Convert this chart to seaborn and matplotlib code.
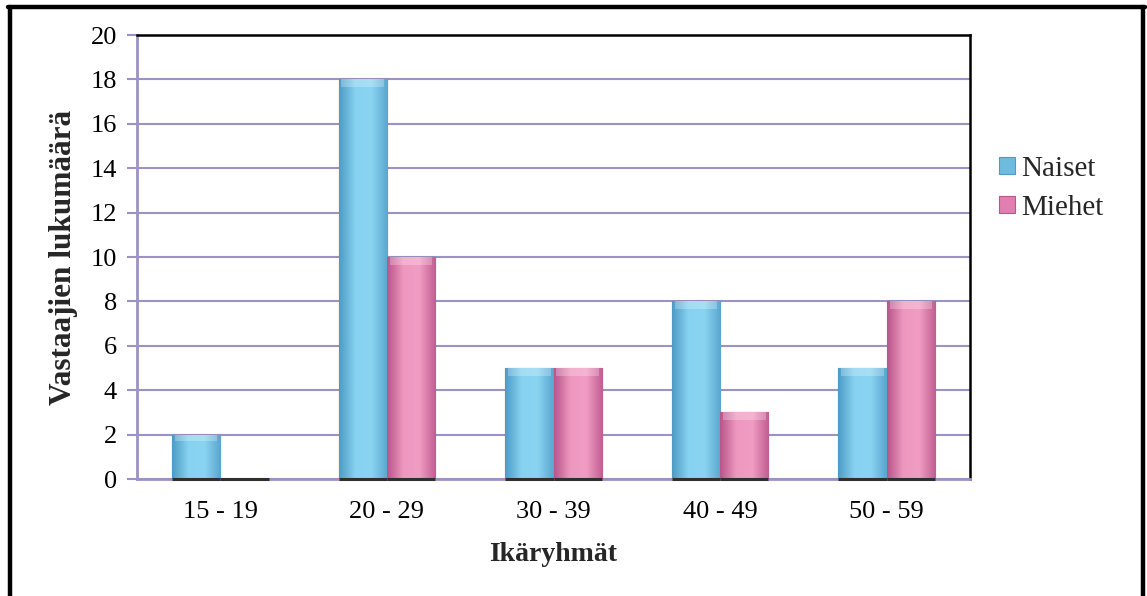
import numpy as np
import pandas as pd
import matplotlib
matplotlib.use("Agg")
import matplotlib.pyplot as plt
from matplotlib.lines import Line2D
from matplotlib.patches import Patch
from matplotlib.colors import LinearSegmentedColormap
import seaborn as sns

categories = ["15 - 19", "20 - 29", "30 - 39", "40 - 49", "50 - 59"]
naiset = [2, 18, 5, 8, 5]
miehet = [0, 10, 5, 3, 8]
series_names = ["Naiset", "Miehet"]
y_ticks = [0, 2, 4, 6, 8, 10, 12, 14, 16, 18, 20]

df = pd.DataFrame({
    "Ikäryhmä": categories * 2,
    "Sarja": [series_names[0]] * len(categories) + [series_names[1]] * len(categories),
    "Määrä": naiset + miehet,
})

sns.set_theme(style="white")
plt.rcParams["font.family"] = ["Liberation Serif", "DejaVu Serif"]

blue = "#7CC7E8"
pink = "#E889B6"
grid_col = "#9D92C4"

fig = plt.figure(figsize=(11.47, 5.96), dpi=100)
ax = fig.add_axes([137 / 1147, 1 - 479 / 596, (970 - 137) / 1147, (479 - 35) / 596])

sns.barplot(data=df, x="Ikäryhmä", y="Määrä", hue="Sarja", palette=[blue, pink],
            width=0.58, ax=ax, legend=False, edgecolor="#3a3a3a", linewidth=0.8,
            saturation=1)

# shaded bevel on each bar
shades = {blue: ["#4E9CC6", "#86D2F0", "#8AD4F2", "#5BA6CF"],
          pink: ["#B9568A", "#EE98C0", "#F09CC3", "#C25E92"]}
for patch in list(ax.patches):
    h = patch.get_height()
    x0, w = patch.get_x(), patch.get_width()
    # dark base shadow along the axis line
    ax.hlines(0, x0, x0 + w, color="#2f2f2f", linewidth=2.2, zorder=6, clip_on=False)
    if h <= 0:
        continue
    fc = matplotlib.colors.to_hex(patch.get_facecolor())
    cols = shades[blue] if fc.lower() == blue.lower() else shades[pink]
    cmap = LinearSegmentedColormap.from_list("bev", cols)
    grad = np.linspace(0, 1, 64).reshape(1, -1)
    im = ax.imshow(grad, cmap=cmap, aspect="auto", extent=[x0, x0 + w, 0, h],
                   zorder=patch.get_zorder() + 0.1, interpolation="bicubic")
    im.set_clip_path(patch)
    # lighter top cap
    cap = min(0.35, h * 0.15)
    ax.fill_between([x0 + w * 0.06, x0 + w * 0.94], h - cap, h, color="white",
                    alpha=0.25, zorder=patch.get_zorder() + 0.2, linewidth=0)

ax.set_ylim(0, 20)
ax.set_xlim(-0.5, 4.5)
ax.set_yticks(y_ticks)
ax.yaxis.grid(True, color=grid_col, linewidth=1.5)
ax.set_axisbelow(True)

ax.tick_params(axis="y", which="both", left=True, length=7, width=1.5, color=grid_col,
               labelsize=19, pad=7.5, labelcolor="black")
ax.tick_params(axis="x", bottom=False, labelsize=19, pad=9.5, labelcolor="black")

for side in ["left", "bottom"]:
    ax.spines[side].set_color(grid_col)
    ax.spines[side].set_linewidth(2)
for side in ["top", "right"]:
    ax.spines[side].set_color("black")
    ax.spines[side].set_linewidth(1.8)

ax.set_xlabel("Ikäryhmät", fontsize=20, fontweight="bold", labelpad=14)
ax.set_ylabel("Vastaajien lukumäärä", fontsize=22.5, fontweight="bold", labelpad=9)

handles = [Patch(facecolor="#6DBCE0", edgecolor="#4E9CC6", linewidth=0.8),
           Patch(facecolor="#E27FB0", edgecolor="#B9568A", linewidth=0.8)]
fig.legend(handles, series_names, loc="center left", bbox_to_anchor=(0.871, 0.684),
           frameon=False, fontsize=21, handlelength=0.55, handleheight=0.55,
           handletextpad=0.2, labelspacing=0.45, borderpad=0, borderaxespad=0)

# outer frame
lw = 3.2
fig.add_artist(Line2D([10 / 1147, 10 / 1147], [0, 1 - 7 / 596], transform=fig.transFigure,
                      color="black", linewidth=lw))
fig.add_artist(Line2D([1143 / 1147, 1143 / 1147], [0, 1 - 7 / 596], transform=fig.transFigure,
                      color="black", linewidth=lw))
fig.add_artist(Line2D([8 / 1147, 1145 / 1147], [1 - 7 / 596, 1 - 7 / 596],
                      transform=fig.transFigure, color="black", linewidth=lw))

fig.savefig("out.png", dpi=100, facecolor="white")
